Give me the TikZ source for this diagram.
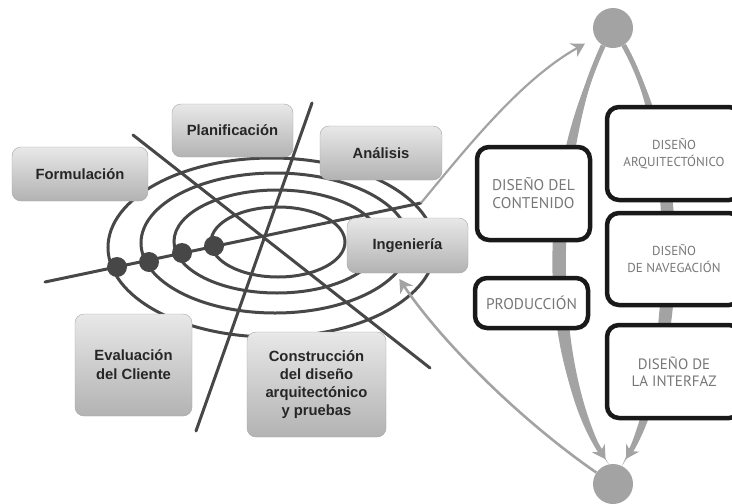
\documentclass[tikz,border=0pt]{standalone}
\usepackage{fontspec}
\setmainfont{Liberation Sans}
\newfontfamily\ptsans{PT Sans}
\usetikzlibrary{arrows.meta}
\definecolor{espiral}{HTML}{474747}
\definecolor{gris}{HTML}{A3A3A3}
\definecolor{textogris}{HTML}{777777}

\begin{document}
\begin{tikzpicture}[x=1pt,y=-1pt,
    fase/.style={draw=black!35,rounded corners=9pt,top color=black!9,bottom color=black!30,
        inner sep=0pt,align=center,font=\fontsize{14.8}{19}\selectfont\bfseries,text=black!85},
    etapa/.style={draw=black!90,line width=4.5pt,rounded corners=12pt,fill=white,inner sep=0pt,
        align=center,text=textogris},
    punto/.style={circle,fill=espiral,minimum size=20pt,inner sep=0pt},
    nodo/.style={circle,fill=gris,minimum size=40pt,inner sep=0pt},
    flecha/.style={draw=gris,line width=2.2pt,-{Stealth[length=13pt,width=15pt,inset=4pt]}}]
    \useasboundingbox (0,0) rectangle (732,504);
    \clip (0,0) rectangle (732,504);
    \fill[white] (0,0) rectangle (732,504);
    % espiral
    \draw[espiral,line width=3pt] (271.5,247.5) ellipse (163.5 and 89.5);
    \draw[espiral,line width=3pt] (275,243) ellipse (134 and 70);
    \draw[espiral,line width=3pt] (277,241.5) ellipse (103 and 51.5);
    \draw[espiral,line width=3pt] (278,242) ellipse (67 and 35);
    \coordinate (fin) at (421,203);
    \draw[espiral,line width=3pt,line cap=round] (45,282) -- (fin);
    \draw[espiral,line width=3pt,line cap=round] (133,135) -- (430,368);
    \draw[espiral,line width=3pt,line cap=round] (312,103) -- (196,431);
    \foreach \x/\y [count=\i] in {117/267,149/262,182/253,214/246}
        \node[punto] (d\i) at (\x,\y) {};
    % ciclo de la derecha
    \node[nodo] (arriba) at (613,28) {};
    \node[nodo] (abajo) at (613,484) {};
    \fill[gris] (arriba.241) .. controls (537,170) and (532,360) .. (abajo.102)
        .. controls (550,360) and (555,170) .. (arriba.241) -- cycle;
    \draw[flecha,line width=5pt,shorten >=6pt] (arriba.241) .. controls (546,170) and (541,360) .. (abajo.102);
    \fill[gris] (arriba.302) .. controls (692,150) and (694,360) .. (abajo.64)
        .. controls (674,360) and (676,150) .. (arriba.302) -- cycle;
    \draw[flecha,line width=5pt,shorten >=8pt] (arriba.302) .. controls (683,150) and (685,360) .. (abajo.64);
    \draw[flecha,shorten >=12pt] (fin) .. controls (465,150) and (520,80) .. (arriba);
    % fases
    \node[fase,minimum width=136pt,minimum height=54pt] (form) at (80,174) {Formulación};
    \node[fase,minimum width=121pt,minimum height=53pt] (plan) at (232.5,130.5) {Planificación};
    \node[fase,minimum width=122pt,minimum height=54pt] (anal) at (381,153) {Análisis};
    \node[fase,minimum width=121pt,minimum height=55pt] (ing) at (407.5,245.5) {Ingeniería};
    \node[fase,minimum width=117pt,minimum height=102pt] (eval) at (133.5,365) {Evaluación\\del Cliente};
    \node[fase,minimum width=139pt,minimum height=105pt,font=\fontsize{14.8}{18}\selectfont\bfseries] (cons) at (316.5,384.5)
        {Construcción\\del diseño\\arquitectónico\\y pruebas};
    \draw[flecha,line width=2.6pt,shorten >=7pt] (abajo) .. controls (520,420) and (440,340) .. ([xshift=-12pt]ing.south);
    % etapas
    \node[etapa,minimum width=113pt,minimum height=93pt,font=\ptsans\fontsize{15.5}{18}\selectfont] (cont) at (533.5,193.5)
        {DISEÑO DEL\\CONTENIDO};
    \node[etapa,minimum width=113pt,minimum height=50pt,font=\ptsans\fontsize{15.5}{18}\selectfont] (prod) at (531.5,303)
        {PRODUCCIÓN};
    \node[etapa,minimum width=134pt,minimum height=93pt,font=\ptsans\fontsize{13}{17}\selectfont] (arq) at (674,153.5)
        {DISEÑO\\ARQUITECTÓNICO};
    \node[etapa,minimum width=134pt,minimum height=92pt,font=\ptsans\fontsize{13}{17}\selectfont] (nav) at (674,259)
        {DISEÑO\\DE NAVEGACIÓN};
    \node[etapa,minimum width=134pt,minimum height=93pt,font=\ptsans\fontsize{15}{17}\selectfont] (int) at (674,371.5)
        {DISEÑO DE\\LA INTERFAZ};
\end{tikzpicture}
\end{document}
